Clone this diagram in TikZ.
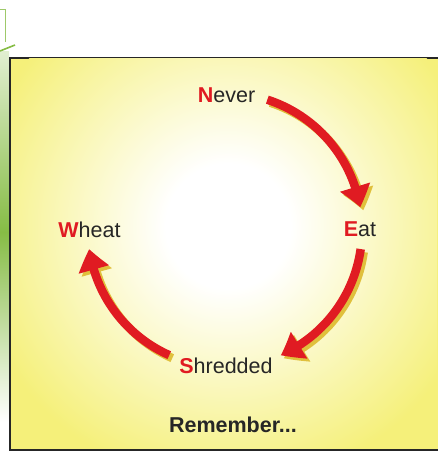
\documentclass[tikz,border=0pt]{standalone}
\usepackage{fontspec}
\setmainfont{Liberation Sans}
\usepackage{xcolor}
\usetikzlibrary{arrows.meta, bending, calc}
\definecolor{memoyellow}{HTML}{F5F07A}
\definecolor{memored}{HTML}{E01B22}
\definecolor{memoshadow}{HTML}{E0C03C}
\definecolor{memogreen}{HTML}{86BC45}
\definecolor{memodark}{HTML}{262626}
\pgfdeclareradialshading{memoglow}{\pgfpoint{0bp}{0bp}}{color(0bp)=(white); color(6bp)=(white); color(25bp)=(memoyellow); color(50bp)=(memoyellow)}
\newcommand{\initial}[1]{\textcolor{memored}{\textbf{#1}}}

\begin{document}
\begin{tikzpicture}[x=1pt, y=1pt,
  word/.style={font=\fontsize{21.5}{25}\selectfont, text=memodark, inner sep=0pt, anchor=base},
  cyc/.style={line width=8.5pt, draw=memored, -{Triangle[width=30pt, length=21pt, bend]}},
  cycshadow/.style={cyc, draw=memoshadow},
]
\useasboundingbox (0,0) rectangle (437,452);

\shade[top color=memogreen, bottom color=white] (0,30) rectangle (9,220);
\shade[top color=memogreen!25, bottom color=memogreen] (0,220) rectangle (9,400);
\draw[memogreen!80, line width=1pt] (0,442) -- (5,442) -- (5,410);
\draw[memogreen, line width=1.6pt] (0,401) -- (15,407);

\draw[memodark, line width=1.4pt, fill=memoyellow] (10,2) rectangle (445,394);
\begin{scope}
  \clip (11,3) rectangle (437,393);
  \coordinate (glow) at (228,226);
  \shade[shading=memoglow] (glow) circle (260);
\end{scope}

\node[word] (never) at (226.5,349) {\initial{N}ever};
\node[word] (eat) at (360,215) {\initial{E}at};
\node[word] (shredded) at (226,78) {\initial{S}hredded};
\node[word] (wheat) at (89.5,214) {\initial{W}heat};
\node[word, font=\fontsize{21.5}{25}\selectfont\bfseries] (remember) at (233,19) {Remember...};

\coordinate (c) at (225,222);
\coordinate (cs) at (228,219);
\foreach \a/\b in {72/9.5, -8/-66, -114/-172} {
  \draw[cycshadow] ($(cs)+(\a:137)$) arc[start angle=\a, end angle=\b, radius=137];
  \draw[cyc] ($(c)+(\a:137)$) arc[start angle=\a, end angle=\b, radius=137];
}
\end{tikzpicture}
\end{document}
